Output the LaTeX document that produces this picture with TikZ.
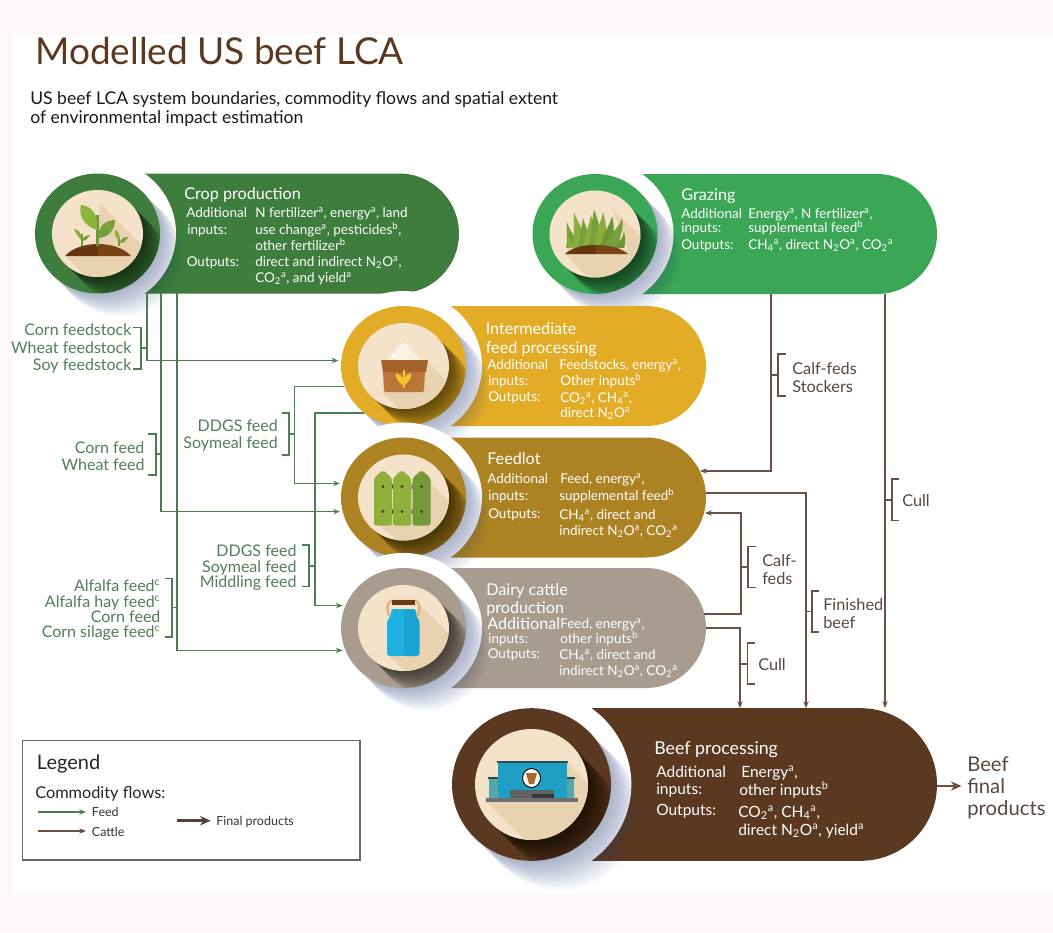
\documentclass[tikz,border=0pt]{standalone}
\usepackage{fontspec}
\setmainfont{Lato}
\usetikzlibrary{arrows.meta,shapes.geometric,shapes.misc}
\definecolor{pagebg}{HTML}{FDF8F7}
\definecolor{cgreen}{HTML}{3F7D3E}
\definecolor{cgraze}{HTML}{3BA655}
\definecolor{cfeed}{HTML}{E2AC26}
\definecolor{clot}{HTML}{AD8222}
\definecolor{cdairy}{HTML}{A89C8E}
\definecolor{cbeef}{HTML}{5B3820}
\definecolor{cream}{HTML}{F4E3CA}
\definecolor{creamd}{HTML}{E9D2AF}
\definecolor{feedline}{HTML}{4B7E50}
\definecolor{feedtext}{HTML}{4F7F58}
\definecolor{cattleline}{HTML}{6A5045}
\definecolor{cattletext}{HTML}{584840}
\definecolor{shadowblue}{HTML}{34477F}
\definecolor{leafa}{HTML}{8DB33F}
\definecolor{leafb}{HTML}{76A03A}
\definecolor{stemc}{HTML}{6C9A32}
\definecolor{soila}{HTML}{66360F}
\definecolor{soilb}{HTML}{7A4516}
\definecolor{bagtop}{HTML}{A5622A}
\definecolor{baglow}{HTML}{B9753A}
\definecolor{wheatc}{HTML}{F2C52C}
\definecolor{heapc}{HTML}{F8F3E6}
\definecolor{cana}{HTML}{1FB0E2}
\definecolor{canb}{HTML}{1AA4D4}
\definecolor{handlec}{HTML}{E0B27E}
\definecolor{capc}{HTML}{6B3A14}
\definecolor{halla}{HTML}{1E9FC4}
\definecolor{wingc}{HTML}{57A6AA}
\definecolor{halldark}{HTML}{2B4A52}
\definecolor{gbase}{HTML}{6D6F71}
\definecolor{gdoor}{HTML}{5F6366}
\definecolor{gdoord}{HTML}{33363A}
\definecolor{cowc}{HTML}{A8672C}
\newcommand{\pxfont}[1]{\fontsize{\dimexpr#1pt*3/4\relax}{\dimexpr#1pt*9/10\relax}\selectfont}
\newcommand{\up}[1]{\textsuperscript{#1}}
\newcommand{\dn}[1]{\textsubscript{#1}}
\newcounter{tn}
\newcommand{\tw}[4][]{\stepcounter{tn}\node[anchor=mid west,inner sep=0pt,#1] (t\thetn) at (#2,#3) {#4};}
\newcommand{\te}[4][]{\stepcounter{tn}\node[anchor=mid east,inner sep=0pt,#1] (t\thetn) at (#2,#3) {#4};}
% name cx cy scale colour pillright creamrx creamry
\newcommand{\stage}[8]{%
  \pgfmathsetmacro{\prx}{62.5*#4}\pgfmathsetmacro{\pry}{60*#4}%
  \pgfmathsetmacro{\rrx}{78.5*#4}\pgfmathsetmacro{\rry}{75*#4}%
  \pgfmathsetmacro{\pmid}{(#2+#6)/2}\pgfmathsetmacro{\pw}{#6-#2}%
  \node[rounded rectangle,rounded rectangle west arc=none,fill=#5,inner sep=0pt,
        minimum width=\pw*0.75pt,minimum height=2*\pry*0.75pt] (#1p) at (\pmid,#3) {};
  \fill[white] (#2,#3) ellipse [x radius=\rrx,y radius=\rry];
  \foreach \i in {1,...,27}{
    \pgfmathsetmacro{\ox}{#2+\i*0.85*#4}\pgfmathsetmacro{\oy}{#3+\i*0.85*#4}
    \fill[shadowblue,opacity=.017] (\ox,\oy) ellipse [x radius=\prx,y radius=\pry];
  }
  \node[ellipse,fill=#5,inner sep=0pt,minimum width=2*\prx*0.75pt,minimum height=2*\pry*0.75pt] (#1c) at (#2,#3) {};
  \begin{scope}
    \clip (#2,#3) ellipse [x radius=\prx,y radius=\pry];
    \foreach \i in {1,...,30}{
      \pgfmathsetmacro{\ox}{#2+\i*0.75*#4}\pgfmathsetmacro{\oy}{#3+\i*0.75*#4}
      \fill[black,opacity=.023] (\ox,\oy) ellipse [x radius=#7,y radius=#8];
    }
  \end{scope}
  \fill[cream] (#2,#3) ellipse [x radius=#7,y radius=#8];
}
% cream-disc clip for the flat icon shadow: cx cy rx ry polygon
\newcommand{\flatshadow}[5]{\begin{scope}\clip (#1,#2) ellipse [x radius=#3,y radius=#4];\fill[creamd] #5;\end{scope}}
% bracket: outer x, spine x, top, bottom, tick x, tick y, style
\newcommand{\brk}[7]{\draw[#7] (#1,#3) -- (#2,#3) -- (#2,#4) -- (#1,#4) (#2,#6) -- (#5,#6);}
\tikzset{
  txt/.style={font=\pxfont{#1},yshift={(-0.15*#1)*1pt}},
  feedflow/.style={draw=feedline,line width=0.95pt,-{Stealth[length=5pt,width=4pt]},shorten >=2pt},
  cattleflow/.style={draw=cattleline,line width=0.95pt,-{Stealth[length=5pt,width=4pt]}},
  feedbr/.style={draw=feedline,line width=0.85pt},
  cattlebr/.style={draw=cattleline,line width=0.95pt},
  stagetitle/.style={text=white,txt=16.2},
  beeftitle/.style={text=white,txt=17.8},
  stagebody/.style={text=white,txt=13.5},
  beefbody/.style={text=white,txt=15.5},
  feedlabel/.style={text=feedtext,txt=16,text height=8pt,text depth=2.5pt},
  cattlelabel/.style={text=cattletext,txt=16.3},
  legendtext/.style={text=black!80,txt=12.5}
}
\begin{document}
\begin{tikzpicture}[x=0.75pt,y=-0.75pt]
\useasboundingbox (0,0) rectangle (1053,932);
\fill[pagebg] (0,0) rectangle (1053,932);
\fill[white] (12,35) rectangle (1053,895);

% titles
\tw[text=cbeef,txt=37,yshift=-1.2pt]{35}{52}{Modelled US beef LCA}
\tw[text=black!90,txt=17.55]{30}{98}{US beef LCA system boundaries, commodity flows and spatial extent}
\tw[text=black!90,txt=17.55]{30}{117}{of environmental impact estimation}

% stages
\stage{crop}{97.5}{233.5}{1}{cgreen}{459}{45.5}{43.5}
\flatshadow{97.5}{233.5}{45.5}{43.5}{(100,203) -- (150,253) -- (150,300) -- (110,300) -- (65,255) -- (97,255) -- cycle}
\fill[soila] (65,256) .. controls (72,248) and (85,244) .. (98,244) -- (98,256) -- cycle;
\fill[soilb] (98,244) .. controls (111,244) and (124,248) .. (131,256) -- (98,256) -- cycle;
\fill[stemc] (96,215) rectangle (99,246);
\fill[stemc] (80.5,234) rectangle (82.5,246);
\fill[stemc] (118,238) rectangle (120,246);
\fill[leafa] (97,230) .. controls (84,226) and (78,215) .. (81,205) .. controls (92,206) and (99,215) .. (97,230);
\fill[leafb] (98,238) .. controls (98,226) and (106,220) .. (115,220) .. controls (115,230) and (108,238) .. (98,238);
\fill[leafa] (81,240) .. controls (78,236) and (75,233) .. (74,229) .. controls (78,229) and (82,232) .. (81,240);
\fill[leafb] (82,241) .. controls (83,237) and (86,235) .. (90,235) .. controls (88,238) and (86,241) .. (82,241);
\fill[leafa] (119,241) .. controls (116,238) and (114,234) .. (115,230) .. controls (119,231) and (121,236) .. (119,241);
\fill[leafb] (120,243) .. controls (120,239) and (124,237) .. (128,237) .. controls (127,240) and (124,243) .. (120,243);

\stage{graze}{595}{234}{1}{cgraze}{937}{45.5}{43.5}
\flatshadow{595}{234}{45.5}{43.5}{(612,208) -- (650,246) -- (650,300) -- (610,300) -- (565,254) -- (628,250) -- cycle}
\foreach \bx/\tx/\ty/\cc in {573/567/222/76A03A,580/574/212/8AAE3E,585/583/218/76A03A,590/591/215/8AAE3E,596/594/209/76A03A,601/603/212/8AAE3E,607/612/216/6F9433,612/622/218/76A03A,617/624/232/6F9433,575/568/236/8AAE3E}{
  \definecolor{bladec}{HTML}{\cc}
  \fill[bladec] ({\bx-7},248) .. controls ({\bx-5},{\ty+18}) and ({\tx-1},{\ty+8}) .. (\tx,\ty) .. controls ({\tx+3},{\ty+10}) and ({\bx+6},{\ty+20}) .. ({\bx+7},248) -- cycle;
}
\fill[soila] (565,254) .. controls (572,247) and (585,245) .. (596,245) -- (596,254) -- cycle;
\fill[soilb] (596,245) .. controls (607,245) and (620,247) .. (628,254) -- (596,254) -- cycle;

\stage{feed}{403.5}{366}{1}{cfeed}{706}{45.5}{43}
\flatshadow{403.5}{366}{45.5}{43}{(428,362) -- (460,394) -- (460,420) -- (410,420) -- (382,392) -- cycle}
\fill[heapc] (385,361) .. controls (392,358) and (398,343) .. (403.5,343) .. controls (409,343) and (415,358) .. (423,361) -- cycle;
\fill[baglow,rounded corners=1pt] (383,371) -- (425,371) -- (424,392) -- (384,392) -- cycle;
\fill[bagtop] (381,360) -- (428,360) -- (426,372) -- (383,372) -- cycle;
\fill[wheatc] (403.5,386) .. controls (397,381) and (395,377) .. (396,373) .. controls (399,374) and (402,376) .. (403.5,379) .. controls (405,376) and (408,374) .. (411,373) .. controls (412,377) and (410,381) .. (403.5,386) -- cycle;
\fill[wheatc] (402.5,370) rectangle (404.5,388);

\stage{lot}{403.5}{497.5}{1}{clot}{706}{45.5}{43}
\flatshadow{403.5}{497.5}{45.5}{43}{(420,472) -- (460,512) -- (460,560) -- (420,560) -- (378,524) -- cycle}
\foreach \lx/\cc in {374/8FB13C,393/8FB13C,412.5/74983A}{
  \definecolor{picketc}{HTML}{\cc}
  \fill[picketc,rounded corners=1.5pt] (\lx,525.5) -- (\lx,478) -- ({\lx+9},470) -- ({\lx+18},478) -- ({\lx+18},525.5) -- cycle;
  \fill[cbeef] ({\lx+9},486.5) circle (1.7);
  \fill[cbeef] ({\lx+9},511.5) circle (1.7);
}
\fill[cbeef] (392,484.5) rectangle (393,488.5) (392,509.5) rectangle (393,513.5) (411.5,484.5) rectangle (412.5,488.5) (411.5,509.5) rectangle (412.5,513.5);

\stage{dairy}{403.5}{628}{1}{cdairy}{706}{45.5}{43}
\flatshadow{403.5}{628}{45.5}{43}{(420,605) -- (460,645) -- (460,690) -- (425,690) -- (388,655) -- cycle}
\draw[handlec,line width=1.8pt] (389,616) .. controls (386,606) and (388,601) .. (392,601) -- (415,601) .. controls (419,601) and (421,606) .. (418,616);
\fill[capc] (392,600) rectangle (415,605);
\fill[cana,rounded corners=2pt] (403,609) -- (391,609) -- (391,615) -- (387,621) -- (387,656) -- (403,656) -- cycle;
\fill[canb,rounded corners=2pt] (403,609) -- (416,609) -- (416,615) -- (419.5,621) -- (419.5,656) -- (403,656) -- cycle;
\fill[cana] (401,609) rectangle (404,656);

\stage{beef}{531.5}{784.5}{1.272}{cbeef}{937}{56.5}{55.5}
\flatshadow{531.5}{784.5}{56.5}{55.5}{(567,762) -- (610,805) -- (610,860) -- (545,860) -- (487,802) -- cycle}
\fill[wingc] (489,778) rectangle (574,798);
\fill[halldark] (488,777) rectangle (575,779);
\fill[halla] (497.5,762) rectangle (567,798);
\fill[halldark] (497,761) rectangle (568,763);
\fill[gbase] (486,798) rectangle (577.5,802);
\fill[gdoor] (509.5,790) rectangle (554,798);
\fill[gdoord] (532,794) rectangle (554,798);
\draw[black,line width=0.7pt,fill=white] (531.5,778) ellipse [x radius=9,y radius=9.5];
\fill[cowc] (526,773) -- (537,773) -- (534,784) -- (529,784) -- cycle;

% stage texts
\tw[stagetitle]{184}{193}{Crop production}
\tw[stagebody]{186}{211.5}{Additional}
\tw[stagebody]{187}{228.5}{inputs:}
\tw[stagebody]{186.5}{260}{Outputs:}
\tw[stagebody]{255}{211.5}{N fertilizer\up{a}, energy\up{a}, land}
\tw[stagebody]{255}{228.5}{use change\up{a}, pesticides\up{b},}
\tw[stagebody]{255}{244}{other fertilizer\up{b}}
\tw[stagebody]{255}{260}{direct and indirect N\dn{2}O\up{a},}
\tw[stagebody]{255}{276}{CO\dn{2}\up{a}, and yield\up{a}}

\tw[stagetitle]{681}{194}{Grazing}
\tw[stagebody]{681}{212}{Additional}
\tw[stagebody]{681}{226}{inputs:}
\tw[stagebody]{681}{243}{Outputs:}
\tw[stagebody]{748}{212}{Energy\up{a}, N fertilizer\up{a},}
\tw[stagebody]{748}{226}{supplemental feed\up{b}}
\tw[stagebody]{748}{243}{CH\dn{4}\up{a}, direct N\dn{2}O\up{a}, CO\dn{2}\up{a}}

\tw[stagetitle]{485.5}{328}{Intermediate}
\tw[stagetitle]{485.5}{346.5}{feed processing}
\tw[stagebody]{487}{363}{Additional}
\tw[stagebody]{488}{379}{inputs:}
\tw[stagebody]{488}{395}{Outputs:}
\tw[stagebody]{559}{363}{Feedstocks, energy\up{a},}
\tw[stagebody]{560}{379}{Other inputs\up{b}}
\tw[stagebody]{560}{396}{CO\dn{2}\up{a}, CH\dn{4}\up{a},}
\tw[stagebody]{560}{411}{direct N\dn{2}O\up{a}}

\tw[stagetitle]{487}{457.5}{Feedlot}
\tw[stagebody]{487}{477}{Additional}
\tw[stagebody]{488}{494}{inputs:}
\tw[stagebody]{488}{512}{Outputs:}
\tw[stagebody]{560}{477}{Feed, energy\up{a},}
\tw[stagebody]{559}{494}{supplemental feed\up{b}}
\tw[stagebody]{559}{513}{CH\dn{4}\up{a}, direct and}
\tw[stagebody]{559}{529}{indirect N\dn{2}O\up{a}, CO\dn{2}\up{a}}

\tw[stagetitle]{486}{589}{Dairy cattle}
\tw[stagetitle]{486}{607}{production}
\tw[stagetitle]{487}{622.5}{Additional}
\tw[stagebody]{488}{637}{inputs:}
\tw[stagebody]{487.5}{652}{Outputs:}
\tw[stagebody]{560}{622}{Feed, energy\up{a},}
\tw[stagebody]{560}{637}{other inputs\up{b}}
\tw[stagebody]{559}{653}{CH\dn{4}\up{a}, direct and}
\tw[stagebody]{559}{669}{indirect N\dn{2}O\up{a}, CO\dn{2}\up{a}}

\tw[beeftitle]{654}{748}{Beef processing}
\tw[beefbody]{656}{771}{Additional}
\tw[beefbody]{656}{788}{inputs:}
\tw[beefbody]{656}{809}{Outputs:}
\tw[beefbody]{741}{771}{Energy\up{a},}
\tw[beefbody]{739}{789}{other inputs\up{b}}
\tw[beefbody]{738}{811}{CO\dn{2}\up{a}, CH\dn{4}\up{a},}
\tw[beefbody]{738}{829}{direct N\dn{2}O\up{a}, yield\up{a}}

% connector anchors
\coordinate (cropA) at (147,293);
\coordinate (cropB) at (161,293);
\coordinate (cropC) at (177,293);
\coordinate (ddgsA) at (294.5,430);
\coordinate (ddgsB) at (315,430);
\coordinate (grazeL) at (771,294);
\coordinate (grazeR) at (885,294);
\coordinate (lotIn) at (700,471);
\coordinate (lotInB) at (705,513);
\coordinate (lotOut) at (706,493);
\coordinate (dairyA) at (704,614);
\coordinate (dairyB) at (706,628);
\coordinate (calfX) at (741,560);
\coordinate (beefA) at (740,708);
\coordinate (beefB) at (806,708);
\coordinate (beefC) at (885,708);
\coordinate (beefOut) at (937,786);
\coordinate (beefEnd) at (961.5,786);

% feed flows
\draw[feedflow] (cropA) |- (feedc.175);
\draw[feedflow] (cropB) |- (lotc.193.7);
\draw[feedflow] (cropC) |- (dairyc.201.7);
\draw[feedflow] (feedc.199.4) -| (ddgsA) |- (lotc.167);
\draw[feedflow] (feedc.230) -| (ddgsB) |- (dairyc.159.3);
% cattle flows
\draw[cattleflow] (grazeL) |- (lotIn);
\draw[cattleflow] (grazeR) -- (beefC);
\draw[cattleflow] (lotOut) -| (beefB);
\draw[cattleflow] (dairyA) -| (calfX) |- (lotInB);
\draw[cattleflow] (dairyB) -| (beefA);
\draw[draw=cattleline,line width=2.2pt,-{Stealth[length=8pt,width=7pt]}] (beefOut) -- (beefEnd);

% brackets
\brk{133}{141}{327.7}{369}{147}{348}{feedbr}
\brk{148}{156}{434}{475}{161}{454}{feedbr}
\brk{281.7}{289}{413}{455}{294.5}{434}{feedbr}
\brk{301.7}{309}{545}{586.7}{315}{566}{feedbr}
\brk{165}{172}{578.7}{637}{177}{607.7}{feedbr}
\brk{785.7}{778}{354}{396}{771}{375}{cattlebr}
\brk{899}{892}{479}{520.7}{885}{500}{cattlebr}
\brk{819}{812}{591}{632}{806}{611.7}{cattlebr}
\brk{755.7}{748}{546.7}{587.7}{741}{567}{cattlebr}
\brk{754.7}{747.3}{643}{684}{740}{664}{cattlebr}

% feed labels
\te[feedlabel]{131.7}{329}{Corn feedstock}
\te[feedlabel]{131.7}{346.5}{Wheat feedstock}
\te[feedlabel]{131.7}{364}{Soy feedstock}
\te[feedlabel]{144.7}{447}{Corn feed}
\te[feedlabel]{144.7}{464}{Wheat feed}
\te[feedlabel]{278}{425}{DDGS feed}
\te[feedlabel]{278}{442}{Soymeal feed}
\te[feedlabel]{296.7}{550}{DDGS feed}
\te[feedlabel]{296.7}{565.5}{Soymeal feed}
\te[feedlabel]{296.7}{581}{Middling feed}
\te[feedlabel]{160.7}{585}{Alfalfa feed\up{c}}
\te[feedlabel]{160.7}{600.7}{Alfalfa hay feed\up{c}}
\te[feedlabel]{160.7}{616}{Corn feed}
\te[feedlabel]{160.7}{631}{Corn silage feed\up{c}}

% cattle labels
\tw[cattlelabel]{792}{367.7}{Calf-feds}
\tw[cattlelabel]{792}{386}{Stockers}
\tw[cattlelabel]{902}{500}{Cull}
\tw[cattlelabel]{823}{604}{Finished}
\tw[cattlelabel]{823}{621.7}{beef}
\tw[cattlelabel]{762}{560}{Calf-}
\tw[cattlelabel]{762}{578}{feds}
\tw[cattlelabel]{758}{664}{Cull}
\tw[text=cattletext,txt=20.3]{967}{764}{Beef}
\tw[text=cattletext,txt=20.3]{967}{786}{final}
\tw[text=cattletext,txt=20.3]{967}{808}{products}

% legend
\node[draw=black!60,line width=0.8pt,inner sep=0pt,minimum width=337.3*0.75pt,minimum height=119.3*0.75pt] (legendbox) at (191.35,800.35) {};
\tw[text=black!85,txt=20]{36.7}{761.7}{Legend}
\tw[text=black!85,txt=16.3]{35}{792}{Commodity flows:}
\tw[legendtext]{91.7}{811}{Feed}
\tw[legendtext]{91.7}{830.5}{Cattle}
\tw[legendtext]{216}{820}{Final products}
\coordinate (lgA) at (38,812); \coordinate (lgB) at (86,812);
\coordinate (lgC) at (38,831); \coordinate (lgD) at (86,831);
\coordinate (lgE) at (177,820.7); \coordinate (lgF) at (210.7,820.7);
\draw[draw=feedline,line width=0.95pt,-{Stealth[length=5pt,width=4pt]}] (lgA) -- (lgB);
\draw[cattleflow] (lgC) -- (lgD);
\draw[draw=cattleline!80!black,line width=2.2pt,-{Stealth[length=8pt,width=7pt]}] (lgE) -- (lgF);
\end{tikzpicture}
\end{document}
